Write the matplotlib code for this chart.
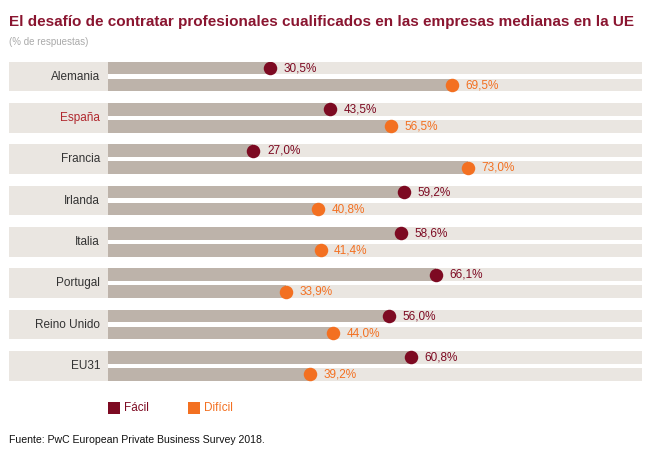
import matplotlib
matplotlib.use("Agg")
import matplotlib.pyplot as plt
from matplotlib.patches import Rectangle

# ---- data ----
categories = ["Alemania", "España", "Francia", "Irlanda", "Italia",
              "Portugal", "Reino Unido", "EU31"]
facil = [30.5, 43.5, 27.0, 59.2, 58.6, 66.1, 56.0, 60.8]
dificil = [69.5, 56.5, 73.0, 40.8, 41.4, 33.9, 44.0, 39.2]
highlight = "España"
series_names = ["Fácil", "Difícil"]

title = "El desafío de contratar profesionales cualificados en las empresas medianas en la UE"
subtitle = "(% de respuestas)"
source = "Fuente: PwC European Private Business Survey 2018."

# ---- style ----
C_BAND = "#EAE6E1"
C_BAR = "#BDB3AA"
C_FACIL = "#7D0A22"
C_DIF = "#F37021"
C_TITLE = "#8A1530"
C_HIGH = "#B0282E"
C_TEXT = "#333333"

plt.rcParams['font.family'] = ['Liberation Sans', 'DejaVu Sans']

W, H = 650, 450
fig = plt.figure(figsize=(6.5, 4.5), dpi=100)


def fx(px):
    return px / W


def fy(py):
    return 1 - py / H


ax_left, ax_right, ax_top, ax_bot = 9, 642, 61.7, 380.8
ax = fig.add_axes([fx(ax_left), fy(ax_bot), (ax_right - ax_left) / W,
                   (ax_bot - ax_top) / H])
px_per = 4.665
zero_px = 127.5
xmin = (ax_left - zero_px) / px_per
xmax = (ax_right - zero_px) / px_per
bar_start = (108 - zero_px) / px_per
label_x = (100 - zero_px) / px_per
P = 41.33
band_h = 29.8 / P
bar_h = 12.7 / P
ax.set_xlim(xmin, xmax)
ax.set_ylim(len(categories) - 1 + band_h, 0)
ax.axis('off')

dot_s = (13.5 * 0.72) ** 2
off = 13.5 / px_per

for i, (cat, f, d) in enumerate(zip(categories, facil, dificil)):
    yc = i + band_h / 2
    y_up = i + bar_h / 2
    y_lo = i + band_h - bar_h / 2
    # label panel
    ax.barh(yc, bar_start - xmin, left=xmin, height=band_h, color=C_BAND, lw=0)
    # tracks
    for yy, v in ((y_up, f), (y_lo, d)):
        ax.barh(yy, xmax - bar_start, left=bar_start, height=bar_h, color=C_BAND, lw=0)
        ax.barh(yy, v - bar_start, left=bar_start, height=bar_h, color=C_BAR, lw=0)
    ax.scatter([f], [y_up], s=dot_s, color=C_FACIL, zorder=3, lw=0)
    ax.scatter([d], [y_lo], s=dot_s, color=C_DIF, zorder=3, lw=0)
    ax.text(f + off, y_up, f"{f:.1f}%".replace('.', ','), va='center', ha='left',
            fontsize=8.5, color=C_FACIL)
    ax.text(d + off, y_lo, f"{d:.1f}%".replace('.', ','), va='center', ha='left',
            fontsize=8.5, color=C_DIF)
    ax.text(label_x, yc, cat, va='center', ha='right', fontsize=8.5,
            color=C_HIGH if cat == highlight else C_TEXT)

# title / subtitle
fig.text(fx(9), fy(22), title, fontsize=11.0, fontweight='bold', color=C_TITLE,
         va='center', ha='left')
fig.text(fx(9), fy(42), subtitle, fontsize=7, color="#AAAAAA", va='center', ha='left')

# legend
for (x0, name, col) in ((108, series_names[0], C_FACIL), (188, series_names[1], C_DIF)):
    fig.add_artist(Rectangle((fx(x0), fy(414)), 12 / W, 12 / H, transform=fig.transFigure,
                             color=col, lw=0))
    fig.text(fx(x0 + 16), fy(408), name, fontsize=8.5, color=col, va='center', ha='left')

fig.text(fx(9), fy(440), source, fontsize=7.6, color="#111111", va='center', ha='left')

fig.savefig("out.png", dpi=100, facecolor="white")
